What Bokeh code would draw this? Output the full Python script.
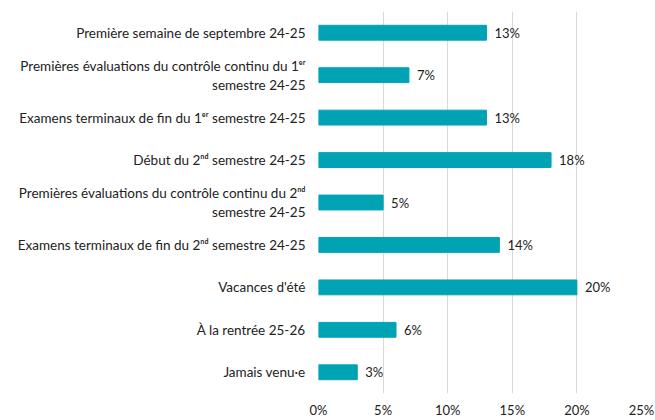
from bokeh.plotting import figure
from bokeh.models import Range1d, ColumnDataSource, FixedTicker, LabelSet
from bokeh.core.properties import value
from bokeh.embed import file_html
from bokeh.resources import INLINE

categories = [
    "Première semaine de septembre 24-25",
    "Premières évaluations du contrôle continu du 1ᵉʳ\nsemestre 24-25",
    "Examens terminaux de fin du 1ᵉʳ semestre 24-25",
    "Début du 2ⁿᵈ semestre 24-25",
    "Premières évaluations du contrôle continu du 2ⁿᵈ\nsemestre 24-25",
    "Examens terminaux de fin du 2ⁿᵈ semestre 24-25",
    "Vacances d'été",
    "À la rentrée 25-26",
    "Jamais venu·e",
]
values = [13, 7, 13, 18, 5, 14, 20, 6, 3]
x_ticks = [0, 5, 10, 15, 20, 25]
x_tick_labels = ["0%", "5%", "10%", "15%", "20%", "25%"]

FONT = "Lato"
TEXT = "#222222"
BAR = "#00A3B4"

src = ColumnDataSource(dict(
    cat=categories,
    val=values,
    lbl=[f"{v}%" for v in values],
))

p = figure(
    width=655, height=420,
    y_range=list(reversed(categories)),
    x_range=Range1d(0, 25),
    output_backend="svg", toolbar_location=None,
    min_border_left=318, min_border_right=14,
    min_border_top=11, min_border_bottom=0,
)
p.outline_line_color = None
p.background_fill_color = "white"
p.border_fill_color = "white"

p.hbar(y="cat", right="val", left=0, height=0.35, source=src,
       fill_color=BAR, line_color=BAR)

labels = LabelSet(x="val", y="cat", text="lbl", source=src,
                  x_offset=8, text_align="left", text_baseline="middle",
                  text_font=value(FONT), text_font_size=value("13px"),
                  text_color=value(TEXT))
p.add_layout(labels)

p.xaxis.ticker = FixedTicker(ticks=x_ticks)
p.xaxis.major_label_overrides = {t: l for t, l in zip(x_ticks, x_tick_labels)}
p.xaxis.axis_line_color = None
p.xaxis.major_tick_line_color = None
p.xaxis.minor_tick_line_color = None
p.xaxis.major_tick_out = 0
p.xaxis.major_tick_in = 0
p.xaxis.minor_tick_out = 0
p.xaxis.major_label_standoff = 8
p.xaxis.major_label_text_font = FONT
p.xaxis.major_label_text_font_size = "13px"
p.xaxis.major_label_text_color = TEXT

p.yaxis.axis_line_color = None
p.yaxis.major_tick_line_color = None
p.yaxis.major_tick_out = 0
p.yaxis.major_tick_in = 0
p.yaxis.major_label_standoff = 13
p.yaxis.major_label_text_font = FONT
p.yaxis.major_label_text_font_size = "13.5px"
p.yaxis.major_label_text_color = TEXT

p.xgrid.grid_line_color = "#D9D9D9"
p.ygrid.grid_line_color = None

open("out.html", "w").write(file_html(p, INLINE))
